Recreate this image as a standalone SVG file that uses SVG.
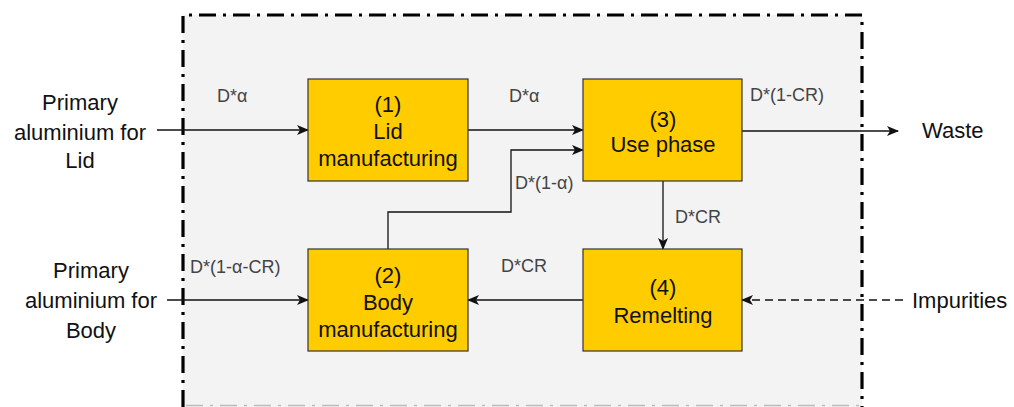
<svg xmlns="http://www.w3.org/2000/svg" width="1014" height="407" viewBox="0 0 1014 407">
<style>
.node rect{fill:#ffcc00;stroke:#333;stroke-width:1.2}
.nt{font-family:"Liberation Sans",Arial,sans-serif;font-size:22px;fill:#111;text-anchor:middle}
.ext{font-family:"Liberation Sans",Arial,sans-serif;font-size:22px;fill:#111}
.lbl{font-family:"Liberation Sans",Arial,sans-serif;font-size:18px;fill:#444}
.edge{fill:none;stroke:#111;stroke-width:1.3}
.dash{stroke-dasharray:8 5}
.bnd{fill:none;stroke:#000;stroke-width:3.2;stroke-dasharray:17 7 3 7}
</style>
<defs>
<marker id="ah" viewBox="0 0 12 10" refX="11" refY="5" markerWidth="12" markerHeight="10" markerUnits="userSpaceOnUse" orient="auto">
<path d="M0,0 L12,5 L0,10 L3,5 Z" fill="#111"/>
</marker>
</defs>
<rect width="1014" height="407" fill="#ffffff"/>
<g id="boundary">
<rect x="183" y="15" width="679" height="392" fill="#f3f3f3"/>
<path class="bnd" d="M183,407 V15 H862 V407"/>
<path d="M186,405.5 H860" fill="none" stroke="#bbb" stroke-width="1.5" stroke-dasharray="17 7 3 7"/>
</g>
<g id="connectors">
<path class="edge" d="M157,130 H308" marker-end="url(#ah)"/>
<path class="edge" d="M167,300 H308" marker-end="url(#ah)"/>
<path class="edge" d="M468,130 H583" marker-end="url(#ah)"/>
<path class="edge" d="M388,249 V212 H511 V150 H583" marker-end="url(#ah)"/>
<path class="edge" d="M663,181 V249" marker-end="url(#ah)"/>
<path class="edge" d="M583,300 H468" marker-end="url(#ah)"/>
<path class="edge" d="M742,131 H898" marker-end="url(#ah)"/>
<path class="edge dash" d="M903,300 H742" marker-end="url(#ah)"/>
<text class="lbl" x="217" y="102">D*α</text>
<text class="lbl" x="509" y="102">D*α</text>
<text class="lbl" x="750" y="101">D*(1-CR)</text>
<text class="lbl" x="515" y="189">D*(1-α)</text>
<text class="lbl" x="190" y="273">D*(1-α-CR)</text>
<text class="lbl" x="501" y="272">D*CR</text>
<text class="lbl" x="675" y="223">D*CR</text>
</g>
<g id="n1" class="node">
<rect x="308" y="79" width="160" height="102"/>
<text class="nt" x="388" y="112">(1)</text>
<text class="nt" x="388" y="139">Lid</text>
<text class="nt" x="388" y="166">manufacturing</text>
</g>
<g id="n2" class="node">
<rect x="308" y="249" width="160" height="102"/>
<text class="nt" x="388" y="283">(2)</text>
<text class="nt" x="388" y="310">Body</text>
<text class="nt" x="388" y="337">manufacturing</text>
</g>
<g id="n3" class="node">
<rect x="583" y="79" width="159" height="102"/>
<text class="nt" x="663" y="127">(3)</text>
<text class="nt" x="663" y="152">Use phase</text>
</g>
<g id="n4" class="node">
<rect x="583" y="249" width="159" height="102"/>
<text class="nt" x="663" y="295">(4)</text>
<text class="nt" x="663" y="323">Remelting</text>
</g>
<g id="src-lid">
<text class="ext" x="80" y="110" text-anchor="middle">Primary</text>
<text class="ext" x="80" y="140" text-anchor="middle">aluminium for</text>
<text class="ext" x="80" y="168" text-anchor="middle">Lid</text>
</g>
<g id="src-body">
<text class="ext" x="91" y="278" text-anchor="middle">Primary</text>
<text class="ext" x="91" y="308" text-anchor="middle">aluminium for</text>
<text class="ext" x="91" y="338" text-anchor="middle">Body</text>
</g>
<g id="waste"><text class="ext" x="922" y="138">Waste</text></g>
<g id="impurities"><text class="ext" x="912" y="308">Impurities</text></g>
</svg>
